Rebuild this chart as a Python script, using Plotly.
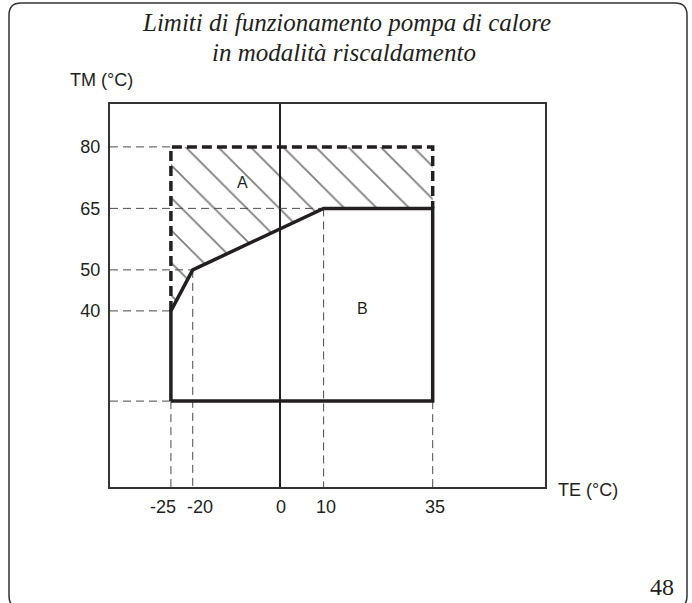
import plotly.graph_objects as go

# Outdoor air temperature TE (°C) and flow water temperature TM (°C)
te_ticks = [-25, -20, 0, 10, 35]
te_labels = ["-25", "-20", "0", "10", "35"]
tm_ticks = [40, 50, 65, 80]
tm_labels = ["40", "50", "65", "80"]

# Zone B: standard operating envelope
zone_b_te = [-25, -25, -20, 10, 35, 35, -25]
zone_b_tm = [18, 40, 50, 65, 65, 18, 18]

# Zone A: extended envelope above zone B
zone_a_te = [-25, -25, 35, 35, 10, -20, -25]
zone_a_tm = [40, 80, 80, 65, 65, 50, 40]
zone_a_edge_te = [-25, -25, 35, 35]
zone_a_edge_tm = [40, 80, 80, 65]

# Reference lines: horizontal (TM, TE where it stops) and vertical (TE, TM where it starts)
h_guides = [(80, -25), (65, 10), (50, -20), (40, -25), (18, -25)]
v_guides = [(-25, 18), (-20, 50), (10, 65), (35, 18)]

x_range = [-38.96, 60.74]
y_range = [-2.95, 90.46]

W, H = 692, 603
M_L, M_R, M_T, M_B = 110, 147, 104, 116
PW, PH = W - M_L - M_R, H - M_T - M_B

# the two crowded labels at -25 and -20 are nudged apart (pixels)
te_label_shift = [-8, 7, 1, 2, 2]


def fx(px):
    return (px - M_L) / PW


def fy(py):
    return 1 - (py - M_T) / PH


INK = "#231f20"
GUIDE = "#4a4a4a"
SANS = "Liberation Sans, Arial, sans-serif"
SERIF = "Liberation Serif, Times New Roman, serif"

fig = go.Figure()

# hatched zone A
fig.add_trace(go.Scatter(
    x=zone_a_te, y=zone_a_tm, mode="lines", fill="toself",
    line=dict(width=0, color="rgba(0,0,0,0)"),
    fillcolor="rgba(0,0,0,0)",
    fillpattern=dict(shape="\\", size=23, solidity=0.08,
                     fgcolor="#000000", bgcolor="rgba(0,0,0,0)"),
    hoverinfo="skip", showlegend=False,
))

# dashed guide lines
gx, gy = [], []
for tm, te_end in h_guides:
    gx += [x_range[0], te_end, None]
    gy += [tm, tm, None]
for te, tm_start in v_guides:
    gx += [te, te, None]
    gy += [tm_start, y_range[0], None]
fig.add_trace(go.Scatter(
    x=gx, y=gy, mode="lines",
    line=dict(color=GUIDE, width=1, dash="8px,5px"),
    hoverinfo="skip", showlegend=False,
))

# zone A outer limit (dashed, thick)
fig.add_trace(go.Scatter(
    x=zone_a_edge_te, y=zone_a_edge_tm, mode="lines",
    line=dict(color=INK, width=3.5, dash="10px,5px"),
    hoverinfo="skip", showlegend=False,
))

# zone B outline
fig.add_trace(go.Scatter(
    x=zone_b_te, y=zone_b_tm, mode="lines",
    line=dict(color=INK, width=3.5),
    hoverinfo="skip", showlegend=False,
))


def label(px, py, text, family, size, xanchor="center"):
    return dict(x=fx(px), y=fy(py), xref="paper", yref="paper",
                xanchor=xanchor, yanchor="middle", text=text, showarrow=False,
                font=dict(family=family, size=size, color=INK))


annotations = [
    dict(x=-8.5, y=71.2, xref="x", yref="y", text="A", showarrow=False,
         xanchor="center", yanchor="middle",
         font=dict(family=SANS, size=16, color=INK)),
    dict(x=18.8, y=40.7, xref="x", yref="y", text="B", showarrow=False,
         xanchor="center", yanchor="middle",
         font=dict(family=SANS, size=16, color=INK)),
    label(346, 22, "<i>Limiti di funzionamento pompa di calore</i>", SERIF, 25),
    label(344, 53, "<i>in modalità riscaldamento</i>", SERIF, 25),
    label(68, 80, "TM (°C)", SANS, 18, "left"),
    label(556, 490, "TE (°C)", SANS, 18, "left"),
    label(676, 587, "48", SERIF, 24, "right"),
]

# TE tick labels under the axis
for te, txt, dx in zip(te_ticks, te_labels, te_label_shift):
    annotations.append(dict(
        x=te, y=fy(507), xref="x", yref="paper", xshift=dx,
        xanchor="center", yanchor="middle", text=txt, showarrow=False,
        font=dict(family=SANS, size=18, color=INK)))

# rounded page border
l, r, t, b, rad = 9, 687, 3, 608, 12
border = (
    f"M {fx(l)},{fy(t + rad)} Q {fx(l)},{fy(t)} {fx(l + rad)},{fy(t)} "
    f"L {fx(r - rad)},{fy(t)} Q {fx(r)},{fy(t)} {fx(r)},{fy(t + rad)} "
    f"L {fx(r)},{fy(b - rad)} Q {fx(r)},{fy(b)} {fx(r - rad)},{fy(b)} "
    f"L {fx(l + rad)},{fy(b)} Q {fx(l)},{fy(b)} {fx(l)},{fy(b - rad)} Z"
)

fig.update_layout(
    width=W, height=H,
    margin=dict(l=M_L, r=M_R, t=M_T, b=M_B, pad=0),
    paper_bgcolor="white", plot_bgcolor="white",
    annotations=annotations,
    shapes=[dict(type="path", path=border, xref="paper", yref="paper",
                 line=dict(color="#333333", width=1.5), layer="above")],
    xaxis=dict(
        range=x_range, showgrid=False, tickmode="array",
        tickvals=te_ticks, ticks="", showticklabels=False,
        showline=True, linecolor="#333333", linewidth=2, mirror=True,
        zeroline=True, zerolinecolor=INK, zerolinewidth=1.5,
        fixedrange=True,
    ),
    yaxis=dict(
        range=y_range, showgrid=False, tickmode="array",
        tickvals=tm_ticks, ticktext=tm_labels, ticks="",
        ticklabelstandoff=4,
        tickfont=dict(family=SANS, size=18, color=INK),
        showline=True, linecolor="#333333", linewidth=2, mirror=True,
        zeroline=False, fixedrange=True,
    ),
)

fig.write_html("out.html")
